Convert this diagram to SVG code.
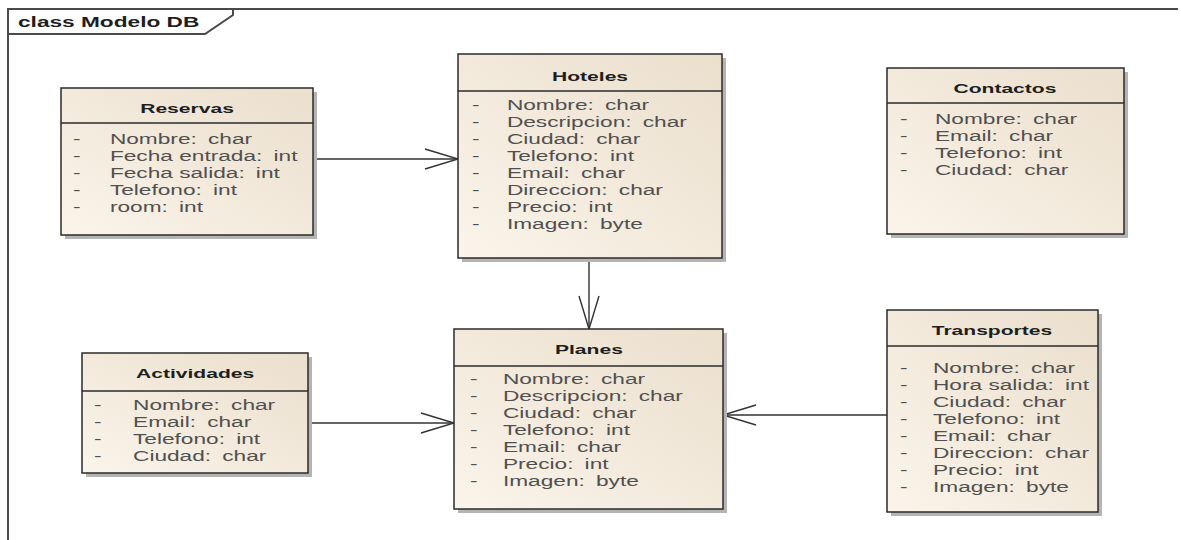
<svg xmlns="http://www.w3.org/2000/svg" width="1181" height="540" viewBox="0 0 1181 540">
  <style>
    .frame{fill:none;stroke:#4a4a4a;stroke-width:2}
    .box{fill:url(#boxFill);stroke:#2b2b2b;stroke-width:1.5}
    .shadow{fill:#b4b4b4}
    .sep{stroke:#2b2b2b;stroke-width:1.3}
    .ttl{font-family:"Liberation Sans",Arial,sans-serif;font-size:13px;font-weight:bold;fill:#1e1e1e;text-anchor:middle}
    .att{font-family:"Liberation Sans",Arial,sans-serif;font-size:14px;fill:#505050}
    .frameTitle{font-family:"Liberation Sans",Arial,sans-serif;font-size:14px;font-weight:bold;fill:#1e1e1e}
    .link{fill:none;stroke:#333;stroke-width:1.4;marker-end:url(#openArrow)}
  </style>
  <defs>
    <linearGradient id="boxFill" x1="1" y1="0" x2="0" y2="1">
      <stop offset="0" stop-color="#ebdfcd"/>
      <stop offset="1" stop-color="#faf4ea"/>
    </linearGradient>
    <marker id="openArrow" markerUnits="userSpaceOnUse" markerWidth="40" markerHeight="26" refX="34" refY="12" orient="auto" overflow="visible">
      <path d="M1,2 L34,12 L1,22" fill="none" stroke="#333" stroke-width="1.4"/>
    </marker>
  </defs>

  <rect width="1181" height="540" fill="#fff"/>

  <!-- diagram frame with name tab -->
  <g id="frame">
    <path class="frame" d="M8,540 V9 H1178"/>
    <path class="frame" d="M8,34 H205 L233,15 V9"/>
    <text class="frameTitle" transform="translate(18,27) scale(1.62,1)">class Modelo DB</text>
  </g>

  <!-- associations -->
  <g id="connectors">
    <path class="link" d="M313,159 H458"/>
    <path class="link" d="M589,258 V329"/>
    <path class="link" d="M308,423 H454"/>
    <path class="link" d="M887,415 H723"/>
  </g>

  <g id="reservas">
    <rect class="shadow" x="65" y="92" width="252" height="147"/>
    <rect class="box" x="61" y="88" width="252" height="147"/>
    <line class="sep" x1="61" y1="123" x2="313" y2="123"/>
    <g transform="translate(61,0) scale(1.62,1)">
      <text class="ttl" x="77.8" y="113">Reservas</text>
      <g class="att">
        <text x="7.4" y="144">-</text><text x="30.2" y="144">Nombre:<tspan dx="3"> char</tspan></text>
        <text x="7.4" y="161">-</text><text x="30.2" y="161">Fecha entrada:<tspan dx="3"> int</tspan></text>
        <text x="7.4" y="178">-</text><text x="30.2" y="178">Fecha salida:<tspan dx="3"> int</tspan></text>
        <text x="7.4" y="195">-</text><text x="30.2" y="195">Telefono:<tspan dx="3"> int</tspan></text>
        <text x="7.4" y="212">-</text><text x="30.2" y="212">room:<tspan dx="3"> int</tspan></text>
      </g>
    </g>
  </g>

  <g id="hoteles">
    <rect class="shadow" x="462" y="58" width="264" height="204"/>
    <rect class="box" x="458" y="54" width="264" height="204"/>
    <line class="sep" x1="458" y1="91" x2="722" y2="91"/>
    <g transform="translate(458,0) scale(1.62,1)">
      <text class="ttl" x="81.5" y="81">Hoteles</text>
      <g class="att">
        <text x="8.6" y="110">-</text><text x="30.2" y="110">Nombre:<tspan dx="3"> char</tspan></text>
        <text x="8.6" y="127">-</text><text x="30.2" y="127">Descripcion:<tspan dx="3"> char</tspan></text>
        <text x="8.6" y="144">-</text><text x="30.2" y="144">Ciudad:<tspan dx="3"> char</tspan></text>
        <text x="8.6" y="161">-</text><text x="30.2" y="161">Telefono:<tspan dx="3"> int</tspan></text>
        <text x="8.6" y="178">-</text><text x="30.2" y="178">Email:<tspan dx="3"> char</tspan></text>
        <text x="8.6" y="195">-</text><text x="30.2" y="195">Direccion:<tspan dx="3"> char</tspan></text>
        <text x="8.6" y="212">-</text><text x="30.2" y="212">Precio:<tspan dx="3"> int</tspan></text>
        <text x="8.6" y="229">-</text><text x="30.2" y="229">Imagen:<tspan dx="3"> byte</tspan></text>
      </g>
    </g>
  </g>

  <g id="contactos">
    <rect class="shadow" x="891" y="72" width="237" height="166"/>
    <rect class="box" x="887" y="68" width="237" height="166"/>
    <line class="sep" x1="887" y1="103" x2="1124" y2="103"/>
    <g transform="translate(887,0) scale(1.62,1)">
      <text class="ttl" x="72.8" y="93">Contactos</text>
      <g class="att">
        <text x="8" y="124">-</text><text x="29.6" y="124">Nombre:<tspan dx="3"> char</tspan></text>
        <text x="8" y="141">-</text><text x="29.6" y="141">Email:<tspan dx="3"> char</tspan></text>
        <text x="8" y="158">-</text><text x="29.6" y="158">Telefono:<tspan dx="3"> int</tspan></text>
        <text x="8" y="175">-</text><text x="29.6" y="175">Ciudad:<tspan dx="3"> char</tspan></text>
      </g>
    </g>
  </g>

  <g id="actividades">
    <rect class="shadow" x="86" y="357" width="226" height="120"/>
    <rect class="box" x="82" y="353" width="226" height="120"/>
    <line class="sep" x1="82" y1="391" x2="308" y2="391"/>
    <g transform="translate(82,0) scale(1.62,1)">
      <text class="ttl" x="69.8" y="378">Actividades</text>
      <g class="att">
        <text x="7.4" y="410">-</text><text x="31.5" y="410">Nombre:<tspan dx="3"> char</tspan></text>
        <text x="7.4" y="427">-</text><text x="31.5" y="427">Email:<tspan dx="3"> char</tspan></text>
        <text x="7.4" y="444">-</text><text x="31.5" y="444">Telefono:<tspan dx="3"> int</tspan></text>
        <text x="7.4" y="461">-</text><text x="31.5" y="461">Ciudad:<tspan dx="3"> char</tspan></text>
      </g>
    </g>
  </g>

  <g id="planes">
    <rect class="shadow" x="458" y="333" width="269" height="180"/>
    <rect class="box" x="454" y="329" width="269" height="180"/>
    <line class="sep" x1="454" y1="366" x2="723" y2="366"/>
    <g transform="translate(454,0) scale(1.62,1)">
      <text class="ttl" x="83.3" y="354">Planes</text>
      <g class="att">
        <text x="9.9" y="384">-</text><text x="30.2" y="384">Nombre:<tspan dx="3"> char</tspan></text>
        <text x="9.9" y="401">-</text><text x="30.2" y="401">Descripcion:<tspan dx="3"> char</tspan></text>
        <text x="9.9" y="418">-</text><text x="30.2" y="418">Ciudad:<tspan dx="3"> char</tspan></text>
        <text x="9.9" y="435">-</text><text x="30.2" y="435">Telefono:<tspan dx="3"> int</tspan></text>
        <text x="9.9" y="452">-</text><text x="30.2" y="452">Email:<tspan dx="3"> char</tspan></text>
        <text x="9.9" y="469">-</text><text x="30.2" y="469">Precio:<tspan dx="3"> int</tspan></text>
        <text x="9.9" y="486">-</text><text x="30.2" y="486">Imagen:<tspan dx="3"> byte</tspan></text>
      </g>
    </g>
  </g>

  <g id="transportes">
    <rect class="shadow" x="891" y="314" width="211" height="202"/>
    <rect class="box" x="887" y="310" width="211" height="202"/>
    <line class="sep" x1="887" y1="346" x2="1098" y2="346"/>
    <g transform="translate(887,0) scale(1.62,1)">
      <text class="ttl" x="64.8" y="335">Transportes</text>
      <g class="att">
        <text x="8" y="373">-</text><text x="28.4" y="373">Nombre:<tspan dx="3"> char</tspan></text>
        <text x="8" y="390">-</text><text x="28.4" y="390">Hora salida:<tspan dx="3"> int</tspan></text>
        <text x="8" y="407">-</text><text x="28.4" y="407">Ciudad:<tspan dx="3"> char</tspan></text>
        <text x="8" y="424">-</text><text x="28.4" y="424">Telefono:<tspan dx="3"> int</tspan></text>
        <text x="8" y="441">-</text><text x="28.4" y="441">Email:<tspan dx="3"> char</tspan></text>
        <text x="8" y="458">-</text><text x="28.4" y="458">Direccion:<tspan dx="3"> char</tspan></text>
        <text x="8" y="475">-</text><text x="28.4" y="475">Precio:<tspan dx="3"> int</tspan></text>
        <text x="8" y="492">-</text><text x="28.4" y="492">Imagen:<tspan dx="3"> byte</tspan></text>
      </g>
    </g>
  </g>
</svg>
